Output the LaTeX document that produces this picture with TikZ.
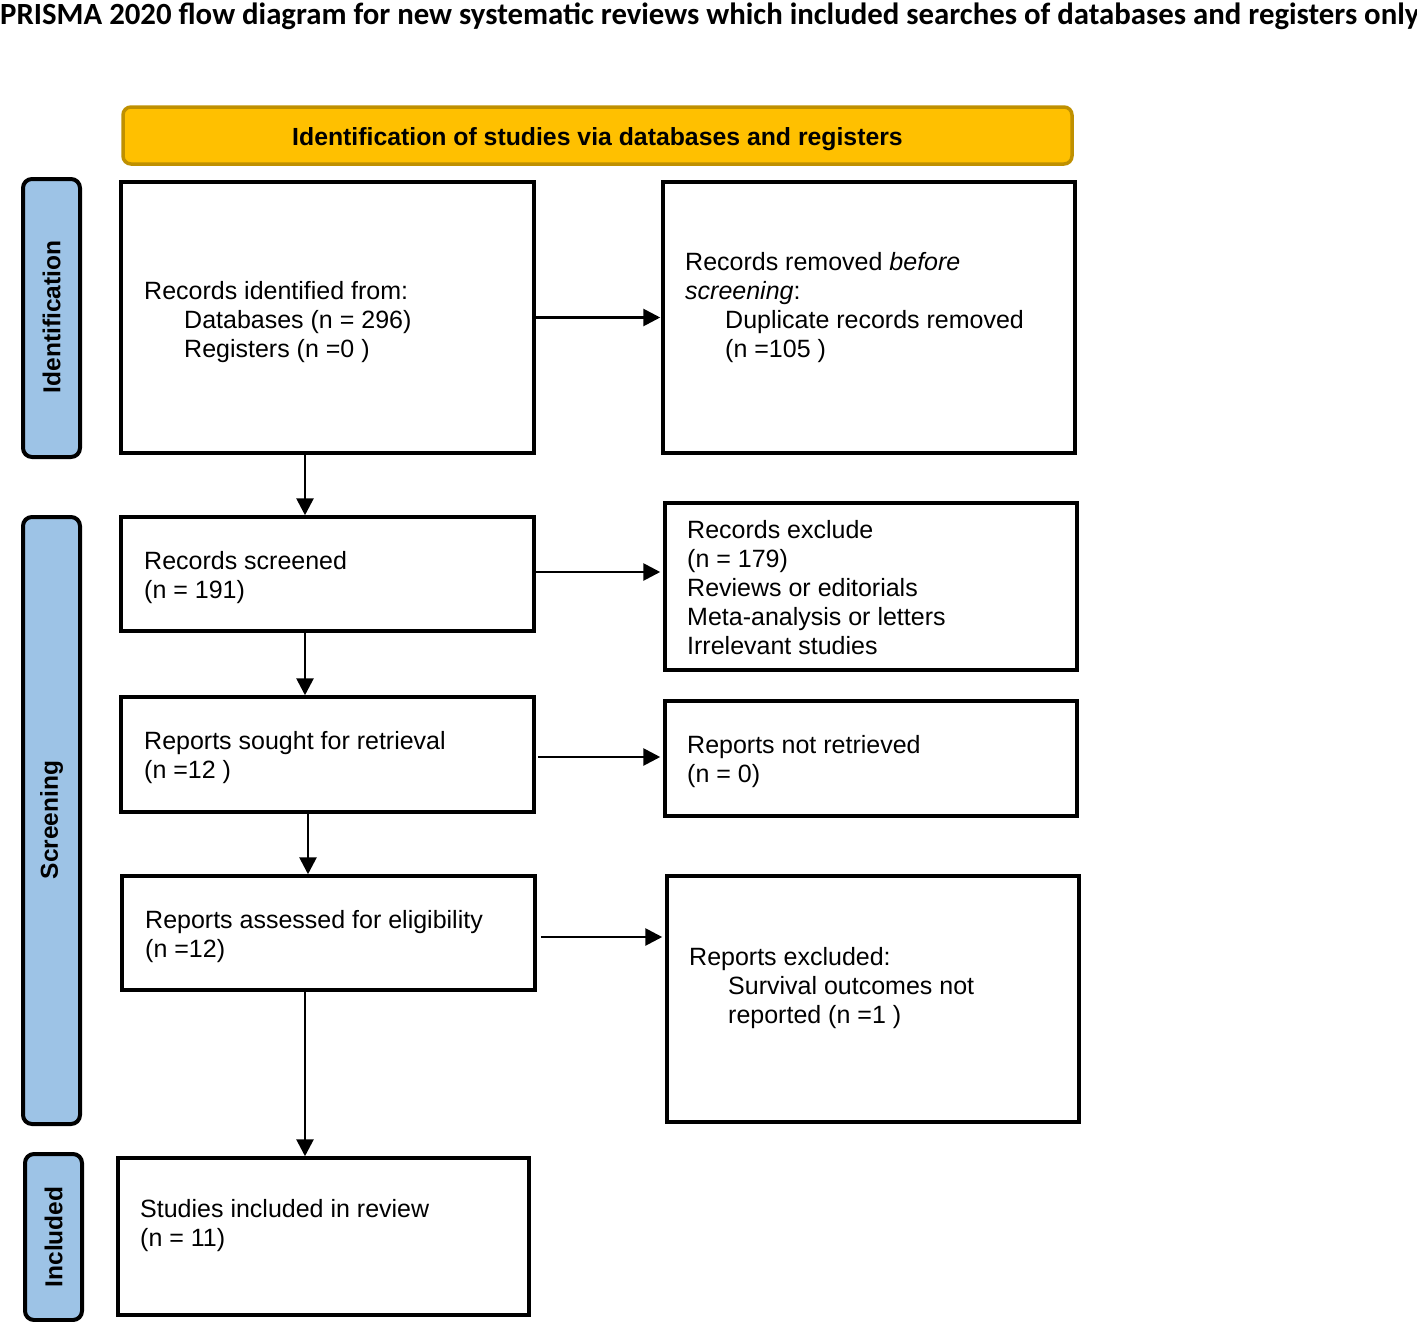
\documentclass[tikz,border=0pt]{standalone}
\usepackage{fontspec}
\setmainfont{Liberation Sans}
\newfontfamily\titlefont{Carlito}
\usetikzlibrary{arrows.meta,calc}
\definecolor{hdrfill}{HTML}{FFC000}
\definecolor{hdrline}{HTML}{BF9000}
\definecolor{sidefill}{HTML}{9DC3E6}
\begin{document}
\begin{tikzpicture}[x=1pt,y=-1pt,
  box/.style={draw=black, line width=3.5pt, fill=white, inner sep=0pt},
  sidebox/.style={draw=black, line width=4pt, fill=sidefill, rounded corners=9pt, inner sep=0pt},
  sidelabel/.style={rotate=90, font=\fontsize{24.5}{29}\selectfont\bfseries, inner sep=0pt},
  txt/.style={anchor=base west, inner sep=0pt, align=left, font=\fontsize{25}{29}\selectfont},
  arr/.style={line width=2.8pt, -{Triangle[width=17pt,length=17pt]}}
]
\useasboundingbox (0,0) rectangle (1417,1322);

% title
\node[anchor=base west, inner sep=0pt, font=\titlefont\bfseries\fontsize{30.8}{34}\selectfont] (title) at (0,25)
  {PRISMA 2020 flow diagram for new systematic reviews which included searches of databases and registers only};

% header
\node[draw=hdrline, fill=hdrfill, line width=3.5pt, rounded corners=8pt, minimum width=949pt, minimum height=57pt, inner sep=0pt] (hdr) at (597.5,135.5) {};
\node[anchor=base, inner sep=0pt, font=\fontsize{24.8}{29}\selectfont\bfseries] (hdrtxt) at (597.5,145) {Identification of studies via databases and registers};

% side boxes
\node[sidebox, minimum width=57pt, minimum height=278pt] (sideI) at (51.5,318) {};
\node[sidelabel] (sideItxt) at (51.5,317) {Identification};
\node[sidebox, minimum width=57pt, minimum height=607pt] (sideS) at (51.5,820.5) {};
\node[sidelabel] (sideStxt) at (51.5,820) {Screening};
\node[sidebox, minimum width=57pt, minimum height=166pt] (sideN) at (53.5,1237) {};
\node[sidelabel] (sideNtxt) at (53.5,1237) {Included};

% left column boxes
\node[box, minimum width=413pt, minimum height=271pt] (B1) at (327.5,317.5) {};
\node[box, minimum width=413pt, minimum height=114pt] (B2) at (327.5,574) {};
\node[box, minimum width=413pt, minimum height=115pt] (B3) at (327.5,754.5) {};
\node[box, minimum width=413pt, minimum height=114pt] (B4) at (328.5,933) {};
\node[box, minimum width=411pt, minimum height=157pt] (B5) at (323.5,1236.5) {};

% right column boxes
\node[box, minimum width=412pt, minimum height=271pt] (R1) at (869,317.5) {};
\node[box, minimum width=412pt, minimum height=167pt] (R2) at (871,586.5) {};
\node[box, minimum width=412pt, minimum height=115pt] (R3) at (871,758.5) {};
\node[box, minimum width=412pt, minimum height=246pt] (R4) at (873,999) {};

% texts (base anchor = baseline of the last line)
\node[txt] (t1) at (144,357) {Records identified from:\\\hspace*{40pt}Databases (n = 296)\\\hspace*{40pt}Registers (n =0 )};
\node[txt] (t2) at (685,357) {Records removed \textit{before}\\\textit{screening}:\\\hspace*{40pt}Duplicate records removed\\\hspace*{40pt}(n =105 )};
\node[txt] (t3) at (144,598) {Records screened\\(n = 191)};
\node[txt] (t4) at (687,654) {Records exclude\\(n = 179)\\Reviews or editorials\\Meta-analysis or letters\\Irrelevant studies};
\node[txt] (t5) at (144,778) {Reports sought for retrieval\\(n =12 )};
\node[txt] (t6) at (687,782) {Reports not retrieved\\(n = 0)};
\node[txt] (t7) at (145,957) {Reports assessed for eligibility\\(n =12)};
\node[txt] (t8) at (689,1023) {Reports excluded:\\\hspace*{39pt}Survival outcomes not\\\hspace*{39pt}reported (n =1 )};
\node[txt] (t9) at (140,1246) {Studies included in review\\(n = 11)};

% vertical arrows
\draw[arr] ([xshift=-22.5pt]B1.south) -- ([xshift=-22.5pt]B1.south |- B2.north);
\draw[arr] ([xshift=-22.5pt]B2.south) -- ([xshift=-22.5pt]B2.south |- B3.north);
\draw[arr] ([xshift=-19.5pt]B3.south) -- ([xshift=-19.5pt]B3.south |- B4.north);
\draw[arr] ([xshift=-23.5pt]B4.south) -- ([xshift=-23.5pt]B4.south |- B5.north);

% horizontal arrows
\draw[arr, shorten >=1pt] (B1.east) -- (B1.east -| R1.west);
\draw[arr, shorten >=3pt] ([yshift=2pt]B2.east) -- ([yshift=2pt]B2.east -| R2.west);
\draw[arr, shorten <=2pt, shorten >=3pt] ([yshift=-2.5pt]B3.east) -- ([yshift=-2.5pt]B3.east -| R3.west);
\draw[arr, shorten <=4pt, shorten >=3pt] ([yshift=-4pt]B4.east) -- ([yshift=-4pt]B4.east -| R4.west);
\end{tikzpicture}
\end{document}
